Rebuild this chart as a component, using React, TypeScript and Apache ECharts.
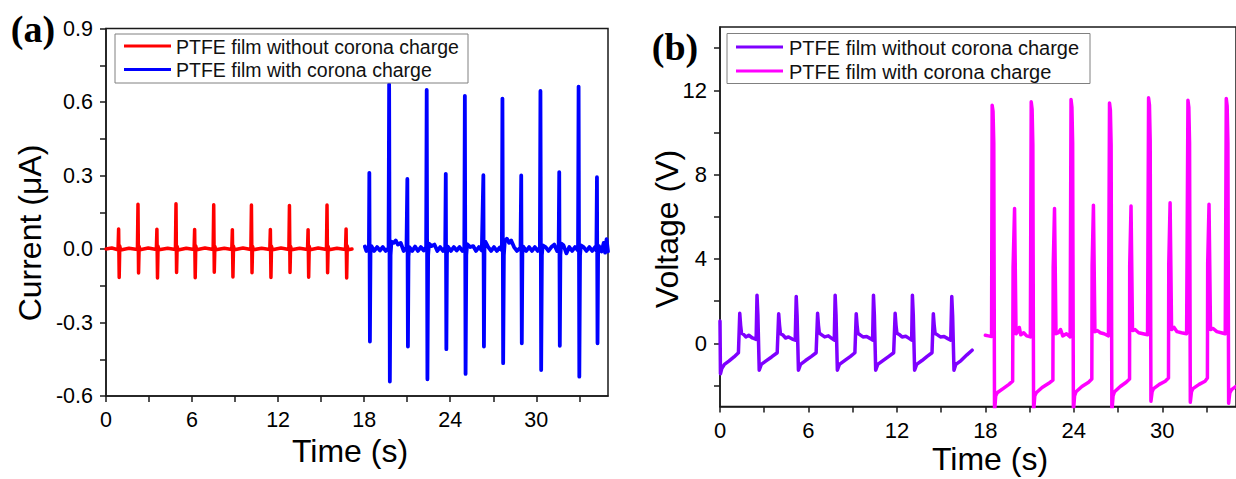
import React, { useEffect, useRef } from "react";
import * as echarts from "echarts";

// ---------- axis ticks & labels ----------
const timeLabels = [0, 6, 12, 18, 24, 30];
const timeTicks = [0, 3, 6, 9, 12, 15, 18, 21, 24, 27, 30, 33];
const currentLabels = [-0.6, -0.3, 0, 0.3, 0.6, 0.9];
const currentTicks = [-0.6, -0.45, -0.3, -0.15, 0, 0.15, 0.3, 0.45, 0.6, 0.75, 0.9];
const voltageLabels = [0, 4, 8, 12];
const voltageTicks = [-2, 0, 2, 4, 6, 8, 10, 12, 14];

const seriesNames = ["PTFE film without corona charge", "PTFE film with corona charge"];

// ---------- (a) current, µA ----------
const currentWithout: [number, number][] = [
  [0.0, 0.0], [0.4, 0.004], [0.84, -0.003],
  [0.88, 0.082], [0.92, -0.116], [0.96, 0.012], [1.02, -0.004],
  [1.6, 0.003], [2.19, -0.002],
  [2.23, 0.183], [2.27, -0.098], [2.31, 0.01], [2.37, -0.003],
  [2.95, 0.004], [3.51, -0.002],
  [3.55, 0.081], [3.59, -0.118], [3.63, 0.011], [3.69, -0.003],
  [4.3, 0.003], [4.84, -0.002],
  [4.88, 0.185], [4.92, -0.096], [4.96, 0.01], [5.02, -0.004],
  [5.6, 0.003], [6.14, -0.002],
  [6.18, 0.08], [6.22, -0.117], [6.26, 0.012], [6.32, -0.003],
  [6.9, 0.004], [7.47, -0.002],
  [7.51, 0.181], [7.55, -0.095], [7.59, 0.01], [7.65, -0.003],
  [8.25, 0.003], [8.77, -0.002],
  [8.81, 0.079], [8.85, -0.114], [8.89, 0.011], [8.95, -0.003],
  [9.55, 0.004], [10.1, -0.002],
  [10.14, 0.18], [10.18, -0.097], [10.22, 0.01], [10.28, -0.003],
  [10.85, 0.003], [11.42, -0.002],
  [11.46, 0.08], [11.5, -0.116], [11.54, 0.011], [11.6, -0.003],
  [12.2, 0.004], [12.75, -0.002],
  [12.79, 0.178], [12.83, -0.096], [12.87, 0.01], [12.93, -0.003],
  [13.5, 0.003], [14.05, -0.002],
  [14.09, 0.079], [14.13, -0.115], [14.17, 0.011], [14.23, -0.003],
  [14.8, 0.004], [15.37, -0.002],
  [15.41, 0.18], [15.45, -0.097], [15.49, 0.01], [15.55, -0.003],
  [16.1, 0.003], [16.7, -0.002],
  [16.74, 0.082], [16.78, -0.118], [16.82, 0.012], [16.88, -0.003],
  [17.15, 0.0],
];

const currentWith: [number, number][] = [
  [18.05, 0.01], [18.15, -0.008], [18.25, 0.006], [18.33, -0.005],
  [18.36, 0.311], [18.4, -0.378], [18.44, -0.02], [18.5, 0.012],
  [18.7, -0.008], [18.9, 0.008], [19.1, -0.006], [19.3, 0.008], [19.5, -0.008], [19.7, 0.004],
  [19.74, 0.672], [19.79, -0.541], [19.84, -0.025], [19.9, 0.03],
  [20.05, 0.025], [20.2, 0.035], [20.35, 0.018], [20.55, 0.025], [20.75, -0.008], [20.95, 0.006],
  [21.01, 0.286], [21.05, -0.398], [21.09, -0.03], [21.15, 0.008],
  [21.35, -0.008], [21.55, 0.01], [21.75, -0.008], [21.95, 0.008], [22.15, -0.006], [22.32, 0.008],
  [22.36, 0.649], [22.41, -0.532], [22.46, -0.025], [22.52, 0.022],
  [22.7, 0.012], [22.9, 0.018], [23.1, -0.008], [23.3, 0.008], [23.5, -0.008], [23.65, 0.006],
  [23.69, 0.307], [23.73, -0.409], [23.77, -0.02], [23.83, 0.01],
  [24.05, -0.008], [24.25, 0.008], [24.45, -0.006], [24.65, 0.008], [24.85, -0.008], [24.98, 0.005],
  [25.02, 0.625], [25.07, -0.51], [25.12, -0.025], [25.18, 0.02],
  [25.4, 0.008], [25.6, 0.012], [25.8, -0.008], [26.0, 0.008], [26.2, -0.006],
  [26.31, 0.301], [26.35, -0.398], [26.39, 0.022], [26.45, 0.03],
  [26.65, 0.008], [26.85, -0.008], [27.05, 0.008], [27.25, -0.008], [27.45, 0.006], [27.6, -0.005],
  [27.64, 0.614], [27.69, -0.466], [27.74, -0.025], [27.8, 0.03],
  [27.95, 0.042], [28.1, 0.025], [28.25, 0.035], [28.45, 0.008], [28.65, -0.008], [28.9, 0.006],
  [28.95, 0.3], [28.99, -0.385], [29.03, -0.02], [29.09, 0.01],
  [29.3, -0.008], [29.5, 0.008], [29.7, -0.008], [29.9, 0.008], [30.1, -0.008], [30.25, 0.006],
  [30.29, 0.645], [30.34, -0.494], [30.39, -0.025], [30.45, 0.015],
  [30.65, 0.008], [30.85, -0.008], [31.05, 0.008], [31.25, 0.018], [31.45, -0.008], [31.56, 0.008],
  [31.6, 0.314], [31.64, -0.395], [31.68, -0.025], [31.74, 0.022],
  [31.9, 0.015], [32.1, -0.018], [32.3, 0.008], [32.5, -0.008], [32.7, 0.008], [32.91, -0.006],
  [32.95, 0.663], [33.0, -0.521], [33.05, -0.025], [33.11, 0.015],
  [33.3, 0.008], [33.5, -0.008], [33.7, 0.008], [33.9, -0.008], [34.1, 0.008], [34.19, -0.006],
  [34.23, 0.293], [34.27, -0.385], [34.31, -0.02], [34.37, 0.012],
  [34.55, -0.01], [34.7, 0.025], [34.8, -0.015], [34.9, 0.04], [35.0, -0.01],
];

// ---------- (b) voltage, V ----------
const voltageWithout: [number, number][] = [
  [0.0, 1.05], [0.03, -1.45], [0.12, -1.2], [0.3, -1.0], [0.6, -0.85], [0.95, -0.65], [1.25, -0.45],
  [1.34, 1.42], [1.4, 0.85], [1.46, 0.48], [1.6, 0.42], [1.75, 0.3], [1.95, 0.38], [2.2, 0.25], [2.45, 0.18],
  [2.51, 2.28], [2.57, 1.35], [2.66, -1.28], [2.8, -1.0], [3.1, -0.85], [3.5, -0.65], [3.88, -0.45],
  [3.98, 1.4], [4.04, 0.85], [4.1, 0.45], [4.25, 0.4], [4.45, 0.25], [4.65, 0.3], [4.9, 0.2], [5.1, 0.15],
  [5.17, 2.22], [5.23, 1.3], [5.32, -1.28], [5.46, -1.0], [5.8, -0.82], [6.2, -0.62], [6.52, -0.45],
  [6.62, 1.42], [6.68, 0.85], [6.74, 0.48], [6.9, 0.4], [7.1, 0.3], [7.35, 0.35], [7.6, 0.22], [7.75, 0.15],
  [7.81, 2.28], [7.87, 1.35], [7.96, -1.28], [8.1, -1.0], [8.45, -0.82], [8.85, -0.62], [9.15, -0.45],
  [9.24, 1.4], [9.3, 0.85], [9.36, 0.46], [9.5, 0.4], [9.7, 0.3], [9.95, 0.32], [10.2, 0.22], [10.35, 0.15],
  [10.41, 2.28], [10.47, 1.35], [10.56, -1.28], [10.7, -1.0], [11.05, -0.82], [11.45, -0.62], [11.78, -0.45],
  [11.88, 1.42], [11.94, 0.85], [12.0, 0.48], [12.15, 0.42], [12.35, 0.3], [12.6, 0.33], [12.85, 0.22], [13.0, 0.15],
  [13.05, 2.28], [13.11, 1.35], [13.2, -1.28], [13.34, -1.0], [13.7, -0.82], [14.05, -0.62], [14.38, -0.45],
  [14.47, 1.4], [14.53, 0.85], [14.59, 0.46], [14.75, 0.4], [14.95, 0.3], [15.2, 0.32], [15.45, 0.22], [15.65, 0.15],
  [15.72, 2.22], [15.78, 1.3], [15.87, -1.28], [16.0, -1.0], [16.35, -0.82], [16.75, -0.55], [17.1, -0.33],
];

const voltageWith: [number, number][] = [
  [18.0, 0.38], [18.2, 0.35], [18.42, 0.32],
  [18.46, 11.29], [18.52, 11.0], [18.57, 9.5], [18.62, -3.3], [18.7, -2.5], [18.8, -2.35], [19.2, -2.15], [19.6, -1.95], [19.85, -1.8],
  [19.88, 3.6], [19.98, 6.39], [20.03, 3.5], [20.08, 0.45], [20.2, 0.55], [20.3, 0.75], [20.4, 0.4], [20.6, 0.5], [20.8, 0.35], [21.05, 0.3],
  [21.11, 11.45], [21.17, 11.1], [21.22, 9.4], [21.27, -3.3], [21.35, -2.5], [21.45, -2.35], [21.85, -2.1], [22.3, -1.9], [22.58, -1.75],
  [22.6, 3.6], [22.69, 6.39], [22.74, 3.5], [22.79, 0.45], [22.95, 0.5], [23.1, 0.65], [23.25, 0.35], [23.5, 0.45], [23.75, 0.3],
  [23.81, 11.56], [23.87, 11.2], [23.92, 9.5], [23.97, -3.3], [24.05, -2.5], [24.15, -2.3], [24.55, -2.05], [25.0, -1.85], [25.22, -1.7],
  [25.24, 3.7], [25.33, 6.55], [25.38, 3.6], [25.43, 0.55], [25.6, 0.6], [25.8, 0.5], [26.05, 0.45], [26.35, 0.35],
  [26.42, 11.4], [26.48, 11.05], [26.53, 9.4], [26.58, -3.3], [26.66, -2.5], [26.76, -2.3], [27.15, -2.05], [27.55, -1.85], [27.78, -1.7],
  [27.79, 3.7], [27.88, 6.51], [27.93, 3.6], [27.98, 0.6], [28.15, 0.65], [28.4, 0.5], [28.7, 0.45], [29.0, 0.4],
  [29.07, 11.64], [29.13, 11.3], [29.18, 9.6], [29.23, -2.75], [29.31, -2.3], [29.41, -2.15], [29.8, -1.95], [30.2, -1.8], [30.42, -1.65],
  [30.44, 3.8], [30.53, 6.66], [30.58, 3.7], [30.63, 0.65], [30.8, 0.75], [31.0, 0.55], [31.3, 0.5], [31.65, 0.45],
  [31.74, 11.53], [31.8, 11.2], [31.85, 9.5], [31.9, -2.8], [31.98, -2.3], [32.08, -2.15], [32.5, -1.95], [32.9, -1.8], [33.06, -1.65],
  [33.08, 3.8], [33.17, 6.59], [33.22, 3.7], [33.27, 0.65], [33.45, 0.7], [33.7, 0.55], [34.0, 0.5], [34.27, 0.45],
  [34.34, 11.61], [34.4, 11.25], [34.45, 9.5], [34.5, -2.85], [34.58, -2.35], [34.7, -2.2], [35.0, -2.05],
];

const colors = { red: "#ff0000", blue: "#0000ff", purple: "#7f00ff", magenta: "#ff00ff" };
const AXIS = "#1a1a1a";
const SANS = '"Liberation Sans", Arial, sans-serif';
const SERIF = '"Liberation Serif", "Times New Roman", serif';

function makeXAxis(gridIndex: number, fontSize: number) {
  return {
    type: "value",
    gridIndex,
    min: 0,
    max: 35,
    axisLine: { show: true, onZero: false, lineStyle: { color: AXIS, width: 1.5 } },
    axisTick: { show: true, inside: false, length: 6, customValues: timeTicks, lineStyle: { color: AXIS, width: 1.5 } },
    axisLabel: { customValues: timeLabels, fontSize, color: "#000", fontFamily: SANS, margin: 13 },
    splitLine: { show: false },
  };
}

function lineSeries(name: string, data: [number, number][], color: string, idx: number, width: number) {
  return {
    type: "line",
    name,
    xAxisIndex: idx,
    yAxisIndex: idx,
    data,
    showSymbol: false,
    symbol: "none",
    clip: true,
    lineStyle: { color, width, join: "round", cap: "round" },
    itemStyle: { color },
    z: 3,
  };
}

function legendBox(x: number, y: number, w: number, h: number, rows: { color: string; text: string; y: number }[], fontSize: number, lineX1: number, lineX2: number, textX: number) {
  const els: any[] = [
    { type: "rect", shape: { x, y, width: w, height: h }, style: { fill: "#fff", stroke: "#808080", lineWidth: 1 }, z: 10 },
  ];
  rows.forEach((r) => {
    els.push({ type: "line", shape: { x1: lineX1, y1: r.y, x2: lineX2, y2: r.y }, style: { stroke: r.color, lineWidth: 3 }, z: 11 });
    els.push({
      type: "text",
      x: textX,
      y: r.y + 0.5,
      style: { text: r.text, font: `${fontSize}px ${SANS}`, fill: "#111", align: "left", verticalAlign: "middle" },
      z: 11,
    });
  });
  return els;
}

export default function App() {
  const ref = useRef<HTMLDivElement>(null);

  useEffect(() => {
    if (!ref.current) return;
    const chart = echarts.init(ref.current, undefined, { renderer: "svg" });

    const option: any = {
      animation: false,
      backgroundColor: "#fff",
      textStyle: { fontFamily: SANS },
      grid: [
        { left: 106, top: 28.5, width: 502, height: 367.5, show: true, borderColor: AXIS, borderWidth: 1.5, backgroundColor: "transparent" },
        { left: 720, top: 27, width: 516, height: 379.5, show: true, borderColor: AXIS, borderWidth: 1.5, backgroundColor: "transparent" },
      ],
      xAxis: [makeXAxis(0, 21.5), makeXAxis(1, 22)],
      yAxis: [
        {
          type: "value",
          gridIndex: 0,
          min: -0.6,
          max: 0.9,
          axisLine: { show: true, onZero: false, lineStyle: { color: AXIS, width: 1.5 } },
          axisTick: { show: true, inside: false, length: 6, customValues: currentTicks, lineStyle: { color: AXIS, width: 1.5 } },
          axisLabel: {
            customValues: currentLabels,
            fontSize: 21.5,
            color: "#000",
            fontFamily: SANS,
            margin: 13,
            formatter: (v: number) => v.toFixed(1),
          },
          splitLine: { show: false },
        },
        {
          type: "value",
          gridIndex: 1,
          min: -3,
          max: 15,
          axisLine: { show: true, onZero: false, lineStyle: { color: AXIS, width: 1.5 } },
          axisTick: { show: true, inside: false, length: 6, customValues: voltageTicks, lineStyle: { color: AXIS, width: 1.5 } },
          axisLabel: { customValues: voltageLabels, fontSize: 22, color: "#000", fontFamily: SANS, margin: 13 },
          splitLine: { show: false },
        },
      ],
      series: [
        lineSeries(seriesNames[0], currentWithout, colors.red, 0, 3.5),
        lineSeries(seriesNames[1], currentWith, colors.blue, 0, 3.8),
        lineSeries(seriesNames[0], voltageWithout, colors.purple, 1, 3.5),
        lineSeries(seriesNames[1], voltageWith, colors.magenta, 1, 3.5),
      ],
      graphic: [
        { type: "text", x: 33, y: 29, style: { text: "(a)", font: `bold 38px ${SERIF}`, fill: "#000", align: "center", verticalAlign: "middle" } },
        { type: "text", x: 675, y: 47, style: { text: "(b)", font: `bold 38px ${SERIF}`, fill: "#000", align: "center", verticalAlign: "middle" } },
        { type: "text", x: 30, y: 233, rotation: Math.PI / 2, style: { text: "Current (μA)", font: `32px ${SANS}`, fill: "#000", align: "center", verticalAlign: "middle" } },
        { type: "text", x: 667, y: 229, rotation: Math.PI / 2, style: { text: "Voltage (V)", font: `32px ${SANS}`, fill: "#000", align: "center", verticalAlign: "middle" } },
        { type: "text", x: 350, y: 451, style: { text: "Time (s)", font: `32px ${SANS}`, fill: "#000", align: "center", verticalAlign: "middle" } },
        { type: "text", x: 990, y: 459, style: { text: "Time (s)", font: `32px ${SANS}`, fill: "#000", align: "center", verticalAlign: "middle" } },
        ...legendBox(115, 34, 353, 49, [
          { color: colors.red, text: seriesNames[0], y: 46 },
          { color: colors.blue, text: seriesNames[1], y: 69.5 },
        ], 19.5, 124, 171, 176),
        ...legendBox(727, 33.5, 363, 50, [
          { color: colors.purple, text: seriesNames[0], y: 47 },
          { color: colors.magenta, text: seriesNames[1], y: 71 },
        ], 20, 736, 783, 789),
      ],
    };

    chart.setOption(option);
    return () => chart.dispose();
  }, []);

  return <div ref={ref} style={{ position: "absolute", left: 0, top: 0, width: 1236, height: 479 }} />;
}
